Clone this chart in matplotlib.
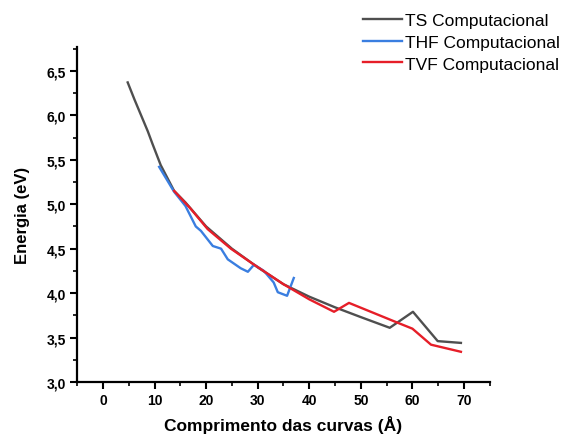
import numpy as np
import matplotlib
matplotlib.use('Agg')
from matplotlib import pyplot as plt
from matplotlib.ticker import MultipleLocator, FuncFormatter

plt.rcParams['font.family'] = ['Liberation Sans', 'DejaVu Sans']

# curves: length (A) vs energy (eV)
ts_x = [4.8, 6.1, 7.4, 8.7, 9.6, 10.6, 11.2, 13.8, 16, 20, 25, 30, 35, 40, 45, 50, 55.6, 60.1, 64.9, 69.4]
ts_y = [6.37, 6.18, 6.00, 5.82, 5.68, 5.53, 5.44, 5.15, 5.02, 4.75, 4.50, 4.29, 4.10, 3.96, 3.84, 3.73, 3.61, 3.79, 3.46, 3.44]

thf_x = [10.9, 13.8, 16.0, 18.0, 19.0, 21.3, 22.9, 24.2, 26.7, 28.1, 29.3, 31.2, 33.1, 33.9, 35.7, 37.0]
thf_y = [5.42, 5.14, 4.98, 4.75, 4.70, 4.53, 4.50, 4.38, 4.28, 4.24, 4.32, 4.25, 4.12, 4.01, 3.97, 4.17]

tvf_x = [13.8, 17, 20.3, 24.8, 29.3, 35, 40, 44.8, 47.7, 57.0, 60.0, 63.6, 69.4]
tvf_y = [5.15, 4.95, 4.72, 4.50, 4.32, 4.10, 3.93, 3.79, 3.89, 3.67, 3.60, 3.42, 3.34]

fig = plt.figure(figsize=(5.63, 4.35), dpi=100)
ax = fig.add_axes([0.137, 0.1195, 0.733, 0.7705])

l1, = ax.plot(ts_x, ts_y, color='#4f4f4f', lw=1.7, label='TS Computacional')
l2, = ax.plot(thf_x, thf_y, color='#3a7ee0', lw=1.7, label='THF Computacional')
l3, = ax.plot(tvf_x, tvf_y, color='#e61e28', lw=1.7, label='TVF Computacional')

ax.set_xlim(-5, 75)
ax.set_ylim(3.0, 6.77)
ax.xaxis.set_major_locator(MultipleLocator(10))
ax.xaxis.set_minor_locator(MultipleLocator(5))
ax.yaxis.set_major_locator(MultipleLocator(0.5))
ax.yaxis.set_minor_locator(MultipleLocator(0.25))
ax.yaxis.set_major_formatter(FuncFormatter(lambda v, p: f"{v:.1f}".replace('.', ',')))

for s in ['top', 'right']:
    ax.spines[s].set_visible(False)
for s in ['left', 'bottom']:
    ax.spines[s].set_linewidth(1.6)

ax.tick_params(which='major', direction='out', length=5, width=1.5, labelsize=10, pad=3)
ax.tick_params(which='minor', direction='out', length=3, width=1.2)
for lab in ax.get_xticklabels() + ax.get_yticklabels():
    lab.set_fontweight('bold')

ax.set_xlabel('Comprimento das curvas (Å)', fontsize=12.5, fontweight='bold', labelpad=6)
ax.set_ylabel('Energia (eV)', fontsize=12, fontweight='bold', labelpad=12)

fig.legend(handles=[l1, l2, l3], loc='upper left', bbox_to_anchor=(0.638, 0.976),
           frameon=False, fontsize=12.5, handlelength=2.25, handletextpad=0.17,
           labelspacing=0.38, borderpad=0.2, borderaxespad=0)

fig.savefig('out.png', dpi=100)
